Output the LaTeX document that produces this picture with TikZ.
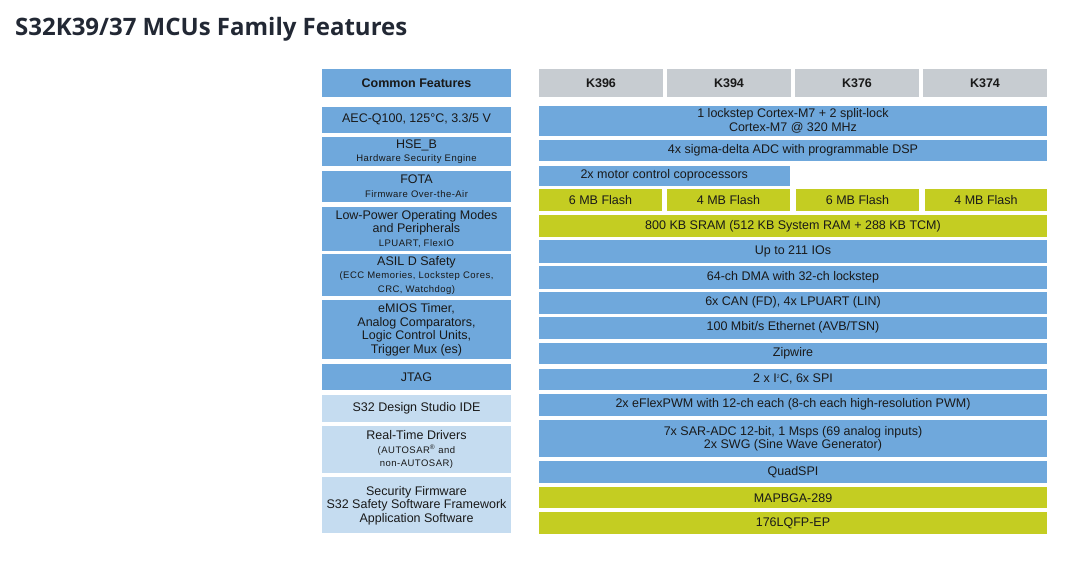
\documentclass[tikz,border=0pt]{standalone}
\usepackage{fontspec}
\setmainfont{Liberation Sans}
\newfontfamily\titlefont{Open Sans}
\newfontfamily\subfont{Liberation Sans}[LetterSpace=5]

\definecolor{featblue}{RGB}{111,168,220}
\definecolor{softblue}{RGB}{197,220,240}
\definecolor{partgrey}{RGB}{199,204,209}
\definecolor{memgreen}{RGB}{196,205,34}
\definecolor{titleink}{RGB}{34,40,52}

\newcommand\subtxt[1]{{\subfont\fontsize{9.5}{11}\selectfont #1}}

\begin{document}
\begin{tikzpicture}[x=1pt, y=-1pt,
    cell/.style={anchor=north west, inner sep=0pt, outer sep=0pt, align=center,
      text=black!90, font=\fontsize{12.5}{13.5}\selectfont},
    wh/.style 2 args={minimum width=#1pt, minimum height=#2pt},
    feat/.style={cell, fill=featblue},
    soft/.style={cell, fill=softblue},
    part/.style={cell, fill=partgrey, font=\fontsize{12.5}{13.5}\selectfont\bfseries},
    mem/.style={cell, fill=memgreen}]
		\useasboundingbox[fill=white] (0,0) rectangle (1077,570);
		\node[anchor=base west, inner sep=0pt, text=titleink, font=\titlefont\bfseries\fontsize{24}{28}\selectfont] (title) at (15,35.5) {S32K39/37 MCUs Family Features};

		% common features column
		\node[feat, wh={189}{28}, font=\fontsize{12.5}{13.5}\selectfont\bfseries] (common) at (322,69) {Common Features};
		\node[feat, wh={189}{26}] (aec) at (322,106.5) {AEC-Q100, 125°C, 3.3/5 V};
		\node[feat, wh={189}{29}] (hse) at (322,137) {HSE\_B\\\subtxt{Hardware Security Engine}};
		\node[feat, wh={189}{30.5}] (fota) at (322,171) {FOTA\\\subtxt{Firmware Over-the-Air}};
		\node[feat, wh={189}{44.3}] (lowpow) at (322,206.5) {Low-Power Operating Modes\\and Peripherals\\\subtxt{LPUART, FlexIO}};
		\node[feat, wh={189}{41.4}] (asil) at (322,254.3) {ASIL D Safety\\\subtxt{(ECC Memories, Lockstep Cores,}\\\subtxt{CRC, Watchdog)}};
		\node[feat, wh={189}{59.3}] (emios) at (322,300) {eMIOS Timer,\\Analog Comparators,\\Logic Control Units,\\Trigger Mux (es)};
		\node[feat, wh={189}{26}] (jtag) at (322,364) {JTAG};
		\node[soft, wh={189}{26.7}] (ide) at (322,395) {S32 Design Studio IDE};
		\node[soft, wh={189}{47.3}] (rtd) at (322,426) {Real-Time Drivers\\\subtxt{(AUTOSAR\textsuperscript{®} and}\\\subtxt{non-AUTOSAR)}};
		\node[soft, wh={189}{56}] (secfw) at (322,477.3) {Security Firmware\\S32 Safety Software Framework\\Application Software};

		% part numbers
		\node[part, wh={124}{28}] (k396) at (539,69) {K396};
		\node[part, wh={124}{28}] (k394) at (667,69) {K394};
		\node[part, wh={124}{28}] (k376) at (795,69) {K376};
		\node[part, wh={124}{28}] (k374) at (923,69) {K374};

		% per-part features
		\node[feat, wh={508}{30}] (cores) at (539,106) {1 lockstep Cortex-M7 + 2 split-lock\\Cortex-M7 @ 320 MHz};
		\node[feat, wh={508}{21.5}] (sdadc) at (539,139.5) {4x sigma-delta ADC with programmable DSP};
		\node[feat, wh={250.5}{20}] (mcc) at (539,165.5) {2x motor control coprocessors};
		\node[mem, wh={123}{22}] (flashA) at (539,189) {6 MB Flash};
		\node[mem, wh={123}{22}] (flashB) at (667,189) {4 MB Flash};
		\node[mem, wh={123}{22}] (flashC) at (796,189) {6 MB Flash};
		\node[mem, wh={122}{22}] (flashD) at (925,189) {4 MB Flash};
		\node[mem, wh={508}{22}] (sram) at (539,215) {800 KB SRAM (512 KB System RAM + 288 KB TCM)};
		\node[feat, wh={508}{22.5}] (ios) at (539,240) {Up to 211 IOs};
		\node[feat, wh={508}{22.5}] (dma) at (539,266) {64-ch DMA with 32-ch lockstep};
		\node[feat, wh={508}{21.5}] (can) at (539,292) {6x CAN (FD), 4x LPUART (LIN)};
		\node[feat, wh={508}{21.5}] (enet) at (539,317) {100 Mbit/s Ethernet (AVB/TSN)};
		\node[feat, wh={508}{21.5}] (zip) at (539,342.5) {Zipwire};
		\node[feat, wh={508}{21.5}] (iic) at (539,368.5) {2 x I\textsuperscript{\tiny 2}C, 6x SPI};
		\node[feat, wh={508}{22}] (pwm) at (539,393.5) {2x eFlexPWM with 12-ch each (8-ch each high-resolution PWM)};
		\node[feat, wh={508}{37.3}] (sar) at (539,420) {7x SAR-ADC 12-bit, 1 Msps (69 analog inputs)\\2x SWG (Sine Wave Generator)};
		\node[feat, wh={508}{21.7}] (qspi) at (539,461) {QuadSPI};
		\node[mem, wh={508}{21}] (bga) at (539,487.3) {MAPBGA-289};
		\node[mem, wh={508}{21.7}] (lqfp) at (539,512.3) {176LQFP-EP};
	\end{tikzpicture}
\end{document}
